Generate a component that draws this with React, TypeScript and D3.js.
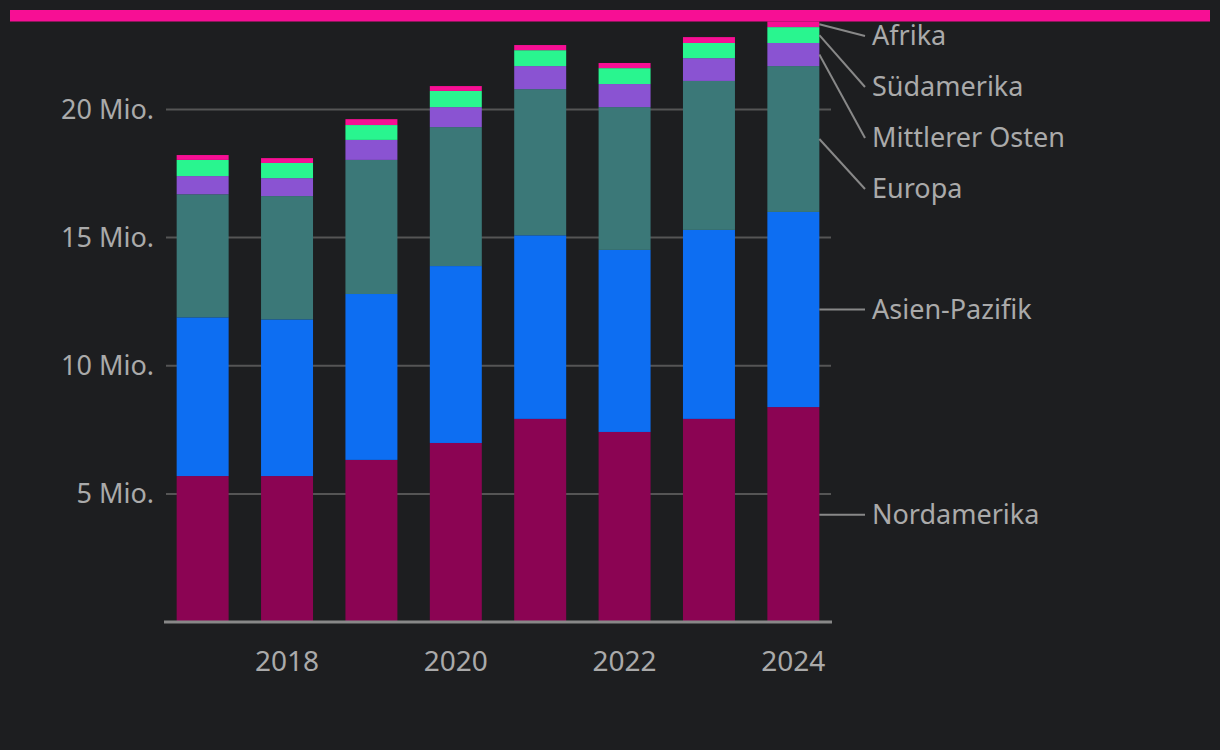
import React, { useEffect } from 'react';
import * as d3 from 'd3';

// Umsatz nach Region (Mio.), 2017–2024
const years = ['2017', '2018', '2019', '2020', '2021', '2022', '2023', '2024'];
const nordamerika = [5.7, 5.7, 6.33, 6.99, 7.93, 7.42, 7.93, 8.39];
const asienPazifik = [6.19, 6.11, 6.47, 6.9, 7.16, 7.1, 7.37, 7.61];
const europa = [4.8, 4.81, 5.23, 5.42, 5.7, 5.57, 5.81, 5.69];
const mittlererOsten = [0.71, 0.7, 0.78, 0.78, 0.9, 0.9, 0.89, 0.9];
const suedamerika = [0.63, 0.59, 0.58, 0.63, 0.62, 0.62, 0.59, 0.62];
const afrika = [0.19, 0.19, 0.23, 0.19, 0.2, 0.2, 0.23, 0.22];

const seriesNames = ['Nordamerika', 'Asien-Pazifik', 'Europa', 'Mittlerer Osten', 'Südamerika', 'Afrika'];
const seriesValues = [nordamerika, asienPazifik, europa, mittlererOsten, suedamerika, afrika];
const colors = ['#8b0453', '#0d6ef2', '#3b7878', '#8a53d2', '#29f58f', '#f70f94'];

const yTicks = [5, 10, 15, 20];
const xTickLabels = ['2018', '2020', '2022', '2024'];

const W = 1220;
const H = 750;
const BG = '#1d1e20';
const TEXT = '#aaaaaa';
const FONT = '"Noto Sans", sans-serif';

export default function App() {
  useEffect(() => {
    document.body.style.margin = '0';
    document.body.style.background = BG;
  }, []);

  const x = d3.scaleBand<string>().domain(years).range([164, 832]).paddingInner(0.384).paddingOuter(0.15);
  const y = d3.scaleLinear().domain([0, 20]).range([622.2, 109.4]);

  const rows = years.map((yr, i) => {
    const r: any = { year: yr };
    seriesNames.forEach((n, k) => (r[n] = seriesValues[k][i]));
    return r;
  });
  const stacked = d3.stack<any>().keys(seriesNames)(rows);

  // leader labels for the last bar, pushed apart so they don't collide
  const last = years.length - 1;
  const mids = stacked.map((s) => y((s[last][0] + s[last][1]) / 2));
  const labelY: number[] = new Array(mids.length);
  let prev = -Infinity;
  for (let k = mids.length - 1; k >= 0; k--) {
    const v = Math.max(mids[k], prev + 51, 36);
    labelY[k] = v;
    prev = v;
  }
  const barRight = (x(years[last]) || 0) + x.bandwidth();

  return (
    <svg width={W} height={H} style={{ display: 'block', background: BG }} fontFamily={FONT}>
      <rect x={0} y={0} width={W} height={H} fill={BG} />
      {yTicks.map((t) => (
        <g key={t}>
          <line x1={166} x2={831} y1={y(t)} y2={y(t)} stroke="#555" strokeWidth={2} />
          <text x={154} y={y(t)} dy="0.35em" textAnchor="end" fontSize={27} fill={TEXT}>
            {t} Mio.
          </text>
        </g>
      ))}
      {stacked.map((s, k) => (
        <g key={s.key} fill={colors[k]}>
          {s.map((d, i) => (
            <rect
              key={years[i]}
              x={x(years[i])}
              width={x.bandwidth()}
              y={y(d[1])}
              height={y(d[0]) - y(d[1])}
            />
          ))}
        </g>
      ))}
      <line x1={164} x2={832} y1={622} y2={622} stroke="#888" strokeWidth={3} />
      {xTickLabels.map((l) => (
        <text key={l} x={(x(l) || 0) + x.bandwidth() / 2} y={661} dy="0.35em" textAnchor="middle" fontSize={28} fill={TEXT}>
          {l}
        </text>
      ))}
      {seriesNames.map((n, k) => (
        <g key={n}>
          <line x1={barRight} y1={mids[k]} x2={865} y2={labelY[k]} stroke="#888" strokeWidth={2} />
          <text x={872} y={labelY[k]} dy="0.35em" fontSize={27} fill={TEXT}>
            {n}
          </text>
        </g>
      ))}
      <rect x={10} y={10} width={1200} height={11.5} fill="#f70f94" />
    </svg>
  );
}
